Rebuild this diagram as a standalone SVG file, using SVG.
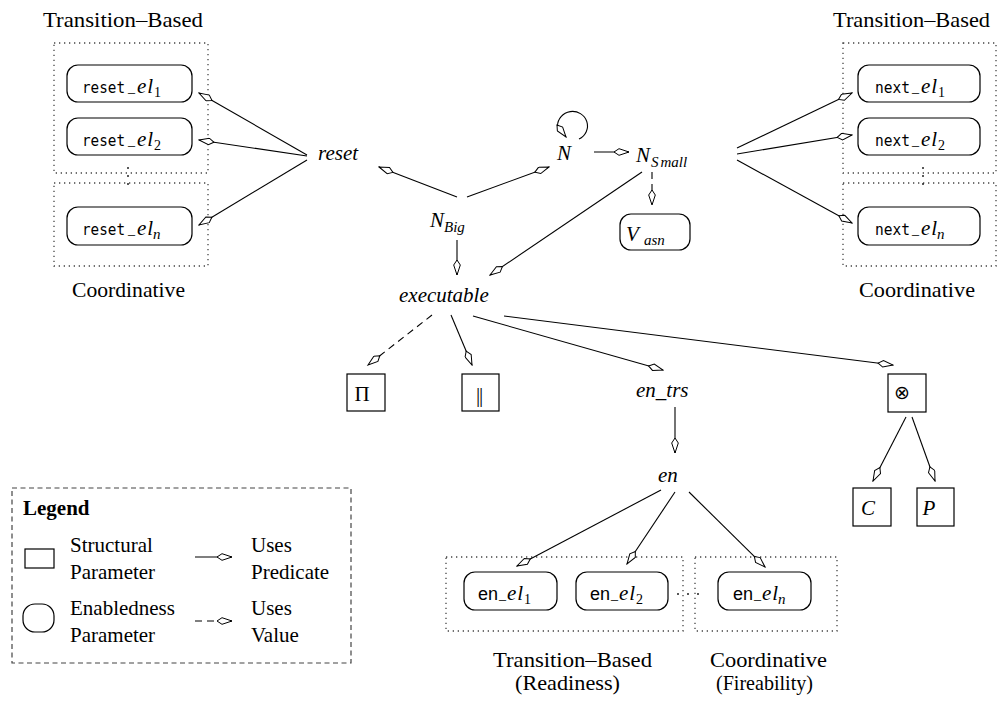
<svg xmlns="http://www.w3.org/2000/svg" width="997" height="704" viewBox="0 0 997 704">
  <defs>
    <style>
      text { font-family: "Liberation Serif", "Times New Roman", serif; font-size: 21px; fill: #000; }
      .it { font-style: italic; }
      .el { font-style: italic; letter-spacing: 1px; }
      .bold { font-weight: bold; }
      .tt { font-family: "DejaVu Sans Mono", "Liberation Mono", monospace; font-size: 15px; }
      .sf { font-family: "Liberation Sans", Arial, sans-serif; font-size: 18px; }
      .us { font-size: 14px; }
      .sub { font-size: 14px; }
      .subi { font-size: 15px; font-style: italic; }
      .sym { font-family: "DejaVu Sans", sans-serif; font-size: 19px; }
      .box { fill: #fff; stroke: #000; stroke-width: 1.2; }
      .param { fill: #fff; stroke: #000; stroke-width: 1.2; }
      .group { fill: none; stroke: #444; stroke-width: 1.3; stroke-dasharray: 1.3 3.7; }
      .legend { fill: none; stroke: #444; stroke-width: 1.2; stroke-dasharray: 5 3.5; }
      .dot { fill: #222; }
      .edge { fill: none; stroke: #000; stroke-width: 1.1; marker-end: url(#kite); }
      .dash { stroke-dasharray: 7 5; }
    </style>
    <marker id="kite" viewBox="0 0 18 8" refX="16.5" refY="4" markerWidth="18" markerHeight="8" markerUnits="userSpaceOnUse" orient="auto">
      <path d="M1.5,4 L6.5,0.7 L16.5,4 L6.5,7.3 Z" fill="#fff" stroke="#000" stroke-width="1" stroke-dasharray="none"/>
    </marker>
  </defs>

  <!-- dotted grouping frames -->
  <g id="groups">
    <rect class="group" x="54" y="43" width="154" height="130"/>
    <rect class="group" x="54" y="183" width="154" height="83"/>
    <circle class="dot" cx="128" cy="168" r="1"/>
    <circle class="dot" cx="128" cy="176" r="1"/>
    <circle class="dot" cx="128" cy="184" r="1"/>
    <text x="43" y="27" textLength="160" lengthAdjust="spacingAndGlyphs">Transition–Based</text>
    <text x="72" y="297" textLength="113" lengthAdjust="spacingAndGlyphs">Coordinative</text>

    <rect class="group" x="843" y="43" width="153" height="130"/>
    <rect class="group" x="843" y="183" width="153" height="83"/>
    <circle class="dot" cx="923" cy="168" r="1"/>
    <circle class="dot" cx="923" cy="176" r="1"/>
    <circle class="dot" cx="923" cy="184" r="1"/>
    <text x="833" y="27" textLength="157" lengthAdjust="spacingAndGlyphs">Transition–Based</text>
    <text x="859" y="297" textLength="116" lengthAdjust="spacingAndGlyphs">Coordinative</text>

    <rect class="group" x="446" y="557" width="237" height="74"/>
    <rect class="group" x="695" y="557" width="142" height="74"/>
    <circle class="dot" cx="678" cy="594" r="1"/>
    <circle class="dot" cx="688" cy="594" r="1"/>
    <circle class="dot" cx="698" cy="594" r="1"/>
    <text x="493" y="667" textLength="159" lengthAdjust="spacingAndGlyphs">Transition–Based</text>
    <text x="515" y="690" textLength="105" lengthAdjust="spacingAndGlyphs">(Readiness)</text>
    <text x="710" y="667" textLength="117" lengthAdjust="spacingAndGlyphs">Coordinative</text>
    <text x="716" y="690" textLength="97" lengthAdjust="spacingAndGlyphs">(Fireability)</text>
  </g>

  <!-- connectors -->
  <g id="connectors">
    <path class="edge" d="M307,155 L199,93"/>
    <path class="edge" d="M307,156 L199,140"/>
    <path class="edge" d="M307,160 L199,225"/>
    <path class="edge" d="M457,197 L379,167"/>
    <path class="edge" d="M467,197 L549,167"/>
    <path fill="none" stroke="#000" stroke-width="1.1" d="M579,139 A15,14.5 0 1 0 557.5,126"/>
    <path class="edge" d="M557,125 L566,137"/>
    <path class="edge" d="M594,152 L629,152"/>
    <path class="edge" d="M737,148 L852,93"/>
    <path class="edge" d="M737,154 L852,135"/>
    <path class="edge" d="M737,160 L852,223"/>
    <path class="edge dash" d="M652,172 L652,205"/>
    <path class="edge" d="M642,172 L490,275"/>
    <path class="edge" d="M457,240 L457,275"/>
    <path class="edge dash" d="M432,315 L368,365"/>
    <path class="edge" d="M451,315 L472,365"/>
    <path class="edge" d="M473,316 L663,370"/>
    <path class="edge" d="M504,316 L893,365"/>
    <path class="edge" d="M675,407 L675,453"/>
    <path class="edge" d="M906,417 L873,481"/>
    <path class="edge" d="M912,417 L935,481"/>
    <path class="edge" d="M661,490 L517,566"/>
    <path class="edge" d="M675,492 L627,564"/>
    <path class="edge" d="M689,492 L765,567"/>
  </g>

  <!-- reset elements -->
  <g id="reset-el1">
    <rect class="param" x="67" y="65" width="125" height="37" rx="11"/>
    <text class="tt" x="82" y="93" textLength="43" lengthAdjust="spacingAndGlyphs">reset</text>
    <text class="us" x="128" y="92">_</text>
    <text class="el" x="137" y="93">el</text>
    <text class="sub" x="154" y="97">1</text>
  </g>
  <g id="reset-el2">
    <rect class="param" x="67" y="118" width="125" height="37" rx="11"/>
    <text class="tt" x="82" y="146" textLength="43" lengthAdjust="spacingAndGlyphs">reset</text>
    <text class="us" x="128" y="145">_</text>
    <text class="el" x="137" y="146">el</text>
    <text class="sub" x="154" y="150">2</text>
  </g>
  <g id="reset-eln">
    <rect class="param" x="67" y="207" width="125" height="38" rx="11"/>
    <text class="tt" x="82" y="235" textLength="43" lengthAdjust="spacingAndGlyphs">reset</text>
    <text class="us" x="128" y="234">_</text>
    <text class="el" x="137" y="235">el</text>
    <text class="subi" x="153" y="239">n</text>
  </g>

  <!-- next elements -->
  <g id="next-el1">
    <rect class="param" x="858" y="65" width="122" height="37" rx="11"/>
    <text class="tt" x="875" y="93" textLength="35" lengthAdjust="spacingAndGlyphs">next</text>
    <text class="us" x="912" y="92">_</text>
    <text class="el" x="921" y="93">el</text>
    <text class="sub" x="938" y="97">1</text>
  </g>
  <g id="next-el2">
    <rect class="param" x="858" y="118" width="122" height="37" rx="11"/>
    <text class="tt" x="875" y="146" textLength="35" lengthAdjust="spacingAndGlyphs">next</text>
    <text class="us" x="912" y="145">_</text>
    <text class="el" x="921" y="146">el</text>
    <text class="sub" x="938" y="150">2</text>
  </g>
  <g id="next-eln">
    <rect class="param" x="858" y="207" width="122" height="38" rx="11"/>
    <text class="tt" x="875" y="235" textLength="35" lengthAdjust="spacingAndGlyphs">next</text>
    <text class="us" x="912" y="234">_</text>
    <text class="el" x="921" y="235">el</text>
    <text class="subi" x="937" y="239">n</text>
  </g>

  <!-- predicate nodes -->
  <g id="reset"><text class="it" x="318" y="160">reset</text></g>
  <g id="N"><text class="it" x="557" y="160">N</text></g>
  <g id="N-small">
    <text class="it" x="636" y="162">N</text>
    <text class="subi" x="651" y="167">S<tspan dx="2">mall</tspan></text>
  </g>
  <g id="N-big">
    <text class="it" x="430" y="227">N</text>
    <text class="subi" x="444" y="232">Big</text>
  </g>
  <g id="V-asn">
    <rect class="param" x="620" y="214" width="70" height="36" rx="11"/>
    <text class="it" x="626" y="241" font-size="25">V</text>
    <text class="subi" x="644" y="245">asn</text>
  </g>
  <g id="executable"><text class="it" x="399" y="302">executable</text></g>
  <g id="en-trs"><text class="it" x="636" y="397">en_trs</text></g>
  <g id="en"><text class="it" x="658" y="482">en</text></g>

  <!-- structural parameters -->
  <g id="Pi">
    <rect class="box" x="347" y="374" width="38" height="37"/>
    <text x="362" y="401" text-anchor="middle" font-size="20">Π</text>
  </g>
  <g id="parallel">
    <rect class="box" x="462" y="374" width="37" height="37"/>
    <text x="476" y="402" font-size="18">|</text>
    <text x="479" y="402" font-size="18">|</text>
  </g>
  <g id="otimes">
    <rect class="box" x="888" y="374" width="38" height="38"/>
    <text class="sym" x="902" y="399" text-anchor="middle">⊗</text>
  </g>
  <g id="C">
    <rect class="box" x="853" y="488" width="38" height="38"/>
    <text class="it" x="868" y="515" text-anchor="middle">C</text>
  </g>
  <g id="P">
    <rect class="box" x="917" y="488" width="37" height="38"/>
    <text class="it" x="929" y="515" text-anchor="middle">P</text>
  </g>

  <!-- enabledness elements -->
  <g id="en-el1">
    <rect class="param" x="464" y="572" width="93" height="38" rx="11"/>
    <text class="sf" x="478" y="600">en</text>
    <text class="us" x="499" y="599">_</text>
    <text class="el" x="507" y="600">el</text>
    <text class="sub" x="524" y="604">1</text>
  </g>
  <g id="en-el2">
    <rect class="param" x="576" y="572" width="92" height="38" rx="11"/>
    <text class="sf" x="590" y="600">en</text>
    <text class="us" x="611" y="599">_</text>
    <text class="el" x="619" y="600">el</text>
    <text class="sub" x="636" y="604">2</text>
  </g>
  <g id="en-eln">
    <rect class="param" x="718" y="572" width="93" height="38" rx="11"/>
    <text class="sf" x="733" y="600">en</text>
    <text class="us" x="754" y="599">_</text>
    <text class="el" x="762" y="600">el</text>
    <text class="subi" x="778" y="604">n</text>
  </g>

  <!-- legend -->
  <g id="legend">
    <rect class="legend" x="12" y="488" width="339" height="175"/>
    <text class="bold" x="23" y="515">Legend</text>
    <rect class="box" x="25" y="549" width="29" height="19"/>
    <text x="70" y="552">Structural</text>
    <text x="70" y="579">Parameter</text>
    <rect class="param" x="23" y="604" width="31" height="28" rx="12"/>
    <text x="70" y="615">Enabledness</text>
    <text x="70" y="642">Parameter</text>
    <path class="edge" d="M195,557 L232,557"/>
    <path class="edge dash" d="M195,621 L232,621"/>
    <text x="251" y="552">Uses</text>
    <text x="251" y="579">Predicate</text>
    <text x="251" y="615">Uses</text>
    <text x="251" y="642">Value</text>
  </g>
</svg>
